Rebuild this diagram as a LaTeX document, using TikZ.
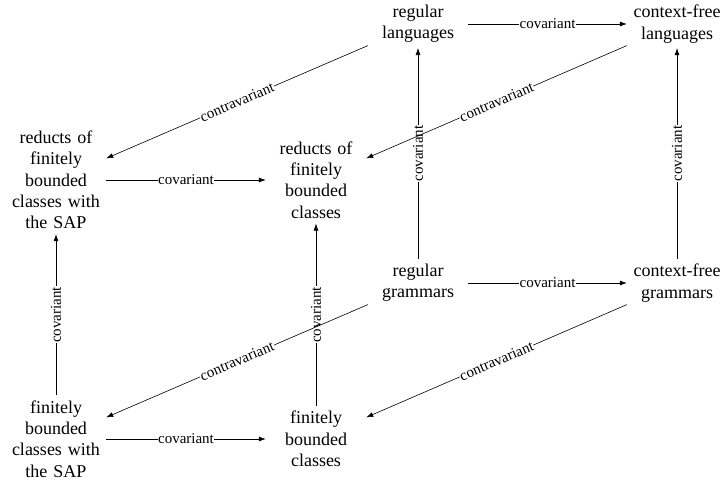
\documentclass[tikz,border=0pt]{standalone}
\usepackage{fontspec}
\setmainfont{Liberation Serif}
\usetikzlibrary{arrows.meta}
\tikzset{
  box/.style={text width=90pt, align=center, inner sep=5pt, font=\fontsize{18}{21.3}\selectfont},
  arr/.style={-{Latex[length=7pt,width=5pt]}, line width=0.6pt},
  lab/.style={font=\fontsize{15}{16}\selectfont, fill=white, inner sep=0.5pt, sloped, midway}
}
\begin{document}
\begin{tikzpicture}[x=1pt,y=-1pt]
\useasboundingbox (0,0) rectangle (722,481);
\node[box] (rl) at (418,24) {regular\\languages};
\node[box] (cl) at (677,24) {context-free\\languages};
\node[box] (rs) at (56,180) {reducts of\\finitely\\bounded\\classes with\\the SAP};
\node[box] (rf) at (316,180) {reducts of\\finitely\\bounded\\classes};
\node[box] (rg) at (418,283) {regular\\grammars};
\node[box] (cg) at (677,283) {context-free\\grammars};
\node[box] (fs) at (56,439) {finitely\\bounded\\classes with\\the SAP};
\node[box] (fc) at (316,439) {finitely\\bounded\\classes};

\draw[arr] (rl) -- node[lab] {covariant} (cl);
\draw[arr] (rs) -- node[lab] {covariant} (rf);
\draw[arr] (rg) -- node[lab] {covariant} (cg);
\draw[arr] (fs) -- node[lab] {covariant} (fc);
\draw[arr] (rg) -- node[lab] {covariant} (rl);
\draw[arr] (cg) -- node[lab] {covariant} (cl);
\draw[arr] (fs) -- node[lab] {covariant} (rs);
\draw[arr] (fc) -- node[lab] {covariant} (rf);
\draw[arr] (rl) -- node[lab] {contravariant} (rs);
\draw[arr] (cl) -- node[lab] {contravariant} (rf);
\draw[arr] (rg) -- node[lab] {contravariant} (fs);
\draw[arr] (cg) -- node[lab] {contravariant} (fc);
\end{tikzpicture}
\end{document}
